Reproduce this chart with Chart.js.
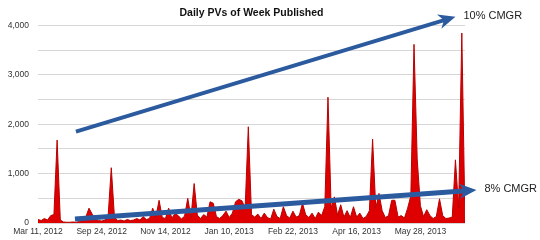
<!DOCTYPE html>
<html>
<head>
<meta charset="utf-8">
<script src="https://cdn.jsdelivr.net/npm/chart.js@4/dist/chart.umd.min.js"></script>
<style>
  body { margin: 0; background: #fff; }
  #wrap { width: 540px; height: 240px; }
</style>
</head>
<body>
<div id="wrap"><canvas id="myChart" width="540" height="240"></canvas></div>
<script>
// daily page views, one value per day shown on the chart
const pageViews = [
	70, 50, 90, 60, 150, 170, 1680, 60, 20, 15,
	15, 20, 15, 30, 40, 120, 300, 180, 70, 50,
	40, 60, 130, 1120, 110, 50, 60, 40, 70, 50,
	60, 90, 60, 130, 70, 90, 300, 120, 460, 110,
	90, 300, 100, 190, 150, 80, 140, 500, 110, 800,
	160, 90, 170, 120, 430, 400, 130, 90, 150, 240,
	110, 200, 430, 480, 450, 300, 1950, 170, 120, 180,
	90, 200, 110, 80, 280, 130, 90, 330, 150, 100,
	240, 120, 150, 400, 170, 110, 200, 90, 220, 150,
	330, 2550, 300, 530, 160, 370, 120, 250, 110, 330,
	120, 200, 90, 130, 250, 1700, 300, 600, 250, 110,
	150, 460, 460, 120, 150, 100, 300, 550, 3620, 1300,
	350, 130, 270, 150, 90, 130, 490, 150, 90, 100,
	120, 1280, 300, 3850, 0
];

// x tick labels and the day index they sit on
const tickLabels = ["Mar 11, 2012", "Sep 24, 2012", "Nov 14, 2012", "Jan 10, 2013", "Feb 22, 2013", "Apr 16, 2013", "May 28, 2013"];
const tickIdx = [0, 20, 40, 60, 80, 100, 120];

// growth arrows (day index / page views)
const arrowLabels = ["10% CMGR", "8% CMGR"];
const arrowStartIdx = [11.9, 11.6];
const arrowStartVal = [1850, 80];
const arrowEndIdx = [131, 137.6];
const arrowEndVal = [4180, 670];

const tickFont = "'Liberation Sans', Arial, sans-serif";

const arrowPlugin = {
	id: 'arrows',
	afterDatasetsDraw(chart) {
		const ctx = chart.ctx;
		const xs = chart.scales.x;
		const ys = chart.scales.y;
		const widths = [4, 5];

		for (let i = 0; i < arrowLabels.length; i++) {
			let sx = xs.getPixelForValue(arrowStartIdx[i]);
			let sy = ys.getPixelForValue(arrowStartVal[i]);
			let tx = xs.getPixelForValue(arrowEndIdx[i]);
			let ty = ys.getPixelForValue(arrowEndVal[i]);
			let a = Math.atan2(ty - sy, tx - sx);

			ctx.save();
			ctx.strokeStyle = '#2b5b9e';
			ctx.fillStyle = '#2b5b9e';
			ctx.lineWidth = widths[i];
			ctx.lineCap = 'butt';
			ctx.beginPath();
			ctx.moveTo(sx, sy);
			ctx.lineTo(tx - Math.cos(a) * 10, ty - Math.sin(a) * 10);
			ctx.stroke();

			// head
			ctx.translate(tx, ty);
			ctx.rotate(a);
			ctx.beginPath();
			ctx.moveTo(0, 0);
			ctx.lineTo(-17, -7.5);
			ctx.lineTo(-12, 0);
			ctx.lineTo(-17, 7.5);
			ctx.closePath();
			ctx.fill();
			ctx.restore();

			ctx.save();
			ctx.fillStyle = '#222';
			ctx.font = '11px Arial, "Liberation Sans", sans-serif';
			ctx.textBaseline = 'middle';
			ctx.fillText(arrowLabels[i], tx + 8, ty - 1);
			ctx.restore();
		}
	}
};

const ctx = document.getElementById('myChart');

new Chart(ctx, {
	type: 'line',
	data: {
		datasets: [{
			label: 'Daily PVs',
			data: pageViews.map((v, i) => ({ x: i, y: v })),
			backgroundColor: 'rgb(222,0,0)',
			borderColor: 'rgb(185,0,0)',
			borderWidth: 1,
			pointRadius: 0,
			tension: 0,
			fill: 'origin'
		}]
	},
	options: {
		responsive: false,
		animation: false,
		layout: {
			padding: { left: 7, right: 75, top: 5, bottom: 0 }
		},
		plugins: {
			legend: { display: false },
			tooltip: { enabled: false },
			title: {
				display: true,
				fullSize: false,
				text: 'Daily PVs of Week Published',
				color: '#111',
				font: { family: 'Arial, "Liberation Sans", sans-serif', size: 10.5, weight: 'bold' },
				padding: { top: 2, bottom: 6 }
			}
		},
		scales: {
			x: {
				type: 'linear',
				min: 0,
				max: 134,
				grid: { display: false, drawTicks: false },
				border: { display: false },
				afterBuildTicks: function(scale) {
					scale.ticks = tickIdx.map(v => ({ value: v }));
				},
				afterFit: function(scale) {
					scale.height = 17;
				},
				ticks: {
					autoSkip: false,
					maxRotation: 0,
					padding: 4,
					color: '#333',
					font: { family: tickFont, size: 8.5 },
					callback: function(value, index) {
						return tickLabels[index];
					}
				}
			},
			y: {
				min: 0,
				max: 4000,
				border: { display: false },
				grid: { color: '#d6d6d6', drawTicks: false },
				afterFit: function(scale) {
					scale.width = 31;
				},
				ticks: {
					stepSize: 500,
					padding: 9,
					color: '#333',
					font: { family: tickFont, size: 8.5 },
					callback: function(value) {
						return value % 1000 === 0 ? value.toLocaleString('en-US') : '';
					}
				}
			}
		}
	},
	plugins: [arrowPlugin]
});
</script>
</body>
</html>
